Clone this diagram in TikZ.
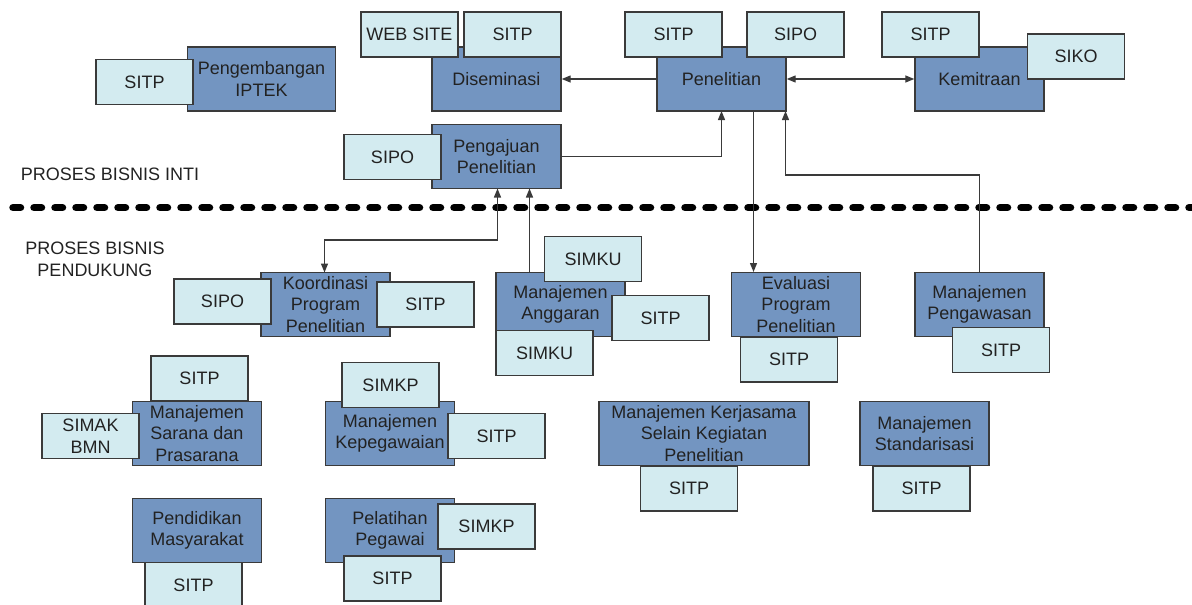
\documentclass[tikz,border=0pt]{standalone}
\usepackage{fontspec}
\setmainfont{Liberation Sans}
\usetikzlibrary{arrows.meta}
\definecolor{procfill}{HTML}{7395C1}
\definecolor{sysfill}{HTML}{D3EBF0}
\definecolor{edge}{HTML}{3A3A3A}
\definecolor{ink}{HTML}{222222}
\tikzset{
  base/.style={draw=edge, line width=1.4pt, rectangle, inner sep=0pt, align=center,
    text=ink, font=\fontsize{18}{21.5}\selectfont},
  proc/.style={base, fill=procfill, minimum width=129pt, minimum height=64pt},
  sys/.style={base, fill=sysfill, minimum width=97pt, minimum height=45pt},
  link/.style={draw=edge, line width=1.3pt, -{Triangle[length=9pt,width=7pt]}},
  biline/.style={draw=edge, line width=1.3pt, {Triangle[length=9pt,width=7pt]}-{Triangle[length=9pt,width=7pt]}},
  caption/.style={align=center, text=ink, font=\fontsize{18}{21.5}\selectfont, inner sep=0pt},
}
\begin{document}
\begin{tikzpicture}[x=1pt,y=-1pt]
\useasboundingbox (0,0) rectangle (1192,605);

% ---------- core processes ----------
\node[proc, minimum width=148pt] (iptek) at (261.5,79) {Pengembangan\\IPTEK};
\node[sys] (iptekA) at (144.5,82) {SITP};

\node[proc] (dis) at (496.5,79) {Diseminasi};
\node[sys] (disA) at (409.5,34.5) {WEB SITE};
\node[sys] (disB) at (512.5,34.5) {SITP};

\node[proc] (pen) at (721.5,79) {Penelitian};
\node[sys] (penA) at (673.5,34.5) {SITP};
\node[sys] (penB) at (795.5,34.5) {SIPO};

\node[proc] (kem) at (979.5,79) {Kemitraan};
\node[sys] (kemA) at (930.5,34.5) {SITP};
\node[sys] (kemB) at (1076,56.5) {SIKO};

\node[proc] (aju) at (496.5,156.5) {Pengajuan\\Penelitian};
\node[sys] (ajuA) at (392.5,157) {SIPO};

% ---------- section labels and divider ----------
\node[caption] (inti) at (110,174) {PROSES BISNIS INTI};
\node[caption] (pendukung) at (95,259.5) {PROSES BISNIS\\PENDUKUNG};
\draw[line width=7.5pt, line cap=round, dash pattern=on 7.5pt off 13.5pt, black]
  (13,207.7) -- (1192,207.7);

% ---------- supporting processes ----------
\node[proc] (koor) at (325.5,304.5) {Koordinasi\\Program\\Penelitian};
\node[sys] (koorA) at (222.5,301.5) {SIPO};
\node[sys] (koorB) at (425.5,304.5) {SITP};

\node[proc] (ang) at (560.5,304.5) {Manajemen\\Anggaran};
\node[sys] (angA) at (593,259) {SIMKU};
\node[sys] (angB) at (660.5,318) {SITP};
\node[sys] (angC) at (544.5,353) {SIMKU};

\node[proc] (eva) at (796,304.5) {Evaluasi\\Program\\Penelitian};
\node[sys] (evaA) at (789,359.5) {SITP};

\node[proc] (was) at (979.5,304.5) {Manajemen\\Pengawasan};
\node[sys] (wasA) at (1001,350) {SITP};

\node[proc] (sar) at (197,433.5) {Manajemen\\Sarana dan\\Prasarana};
\node[sys] (sarA) at (199.5,378.5) {SITP};
\node[sys] (sarB) at (90.5,436) {SIMAK\\BMN};

\node[proc] (peg) at (390,433.5) {Manajemen\\Kepegawaian};
\node[sys] (pegA) at (390.5,385) {SIMKP};
\node[sys] (pegB) at (496.5,436) {SITP};

\node[proc, minimum width=210pt] (ker) at (704,433.5) {Manajemen Kerjasama\\Selain Kegiatan\\Penelitian};
\node[sys] (kerA) at (689,488.5) {SITP};

\node[proc] (std) at (924.5,433.5) {Manajemen\\Standarisasi};
\node[sys] (stdA) at (921.5,488.5) {SITP};

\node[proc] (pdk) at (197,530.5) {Pendidikan\\Masyarakat};
\node[sys] (pdkA) at (193.5,585) {SITP};

\node[proc] (pel) at (390,530.5) {Pelatihan\\Pegawai};
\node[sys] (pelA) at (486.5,526.5) {SIMKP};
\node[sys] (pelB) at (392.5,578.5) {SITP};

% ---------- connectors ----------
\draw[link] (pen.west) -- (dis.east);
\draw[biline] (pen.east) -- (kem.west);
\draw[link] (aju.east) -- (721.5,156.5) -- (721.5,111) coordinate (penin1);
\draw[link] (753.5,111) coordinate (penout) -- (753.5,272);
\draw[link] (was.north) -- (979.5,175) -- (785.5,175) -- (785.5,111) coordinate (penin2);
\draw[biline] (497.5,188.5) coordinate (ajuin1) -- (497.5,240) -- (324.5,240) -- (324.5,272.5);
\draw[link] (529.5,272.5) coordinate (angout) -- (529.5,188.5);
\end{tikzpicture}
\end{document}
